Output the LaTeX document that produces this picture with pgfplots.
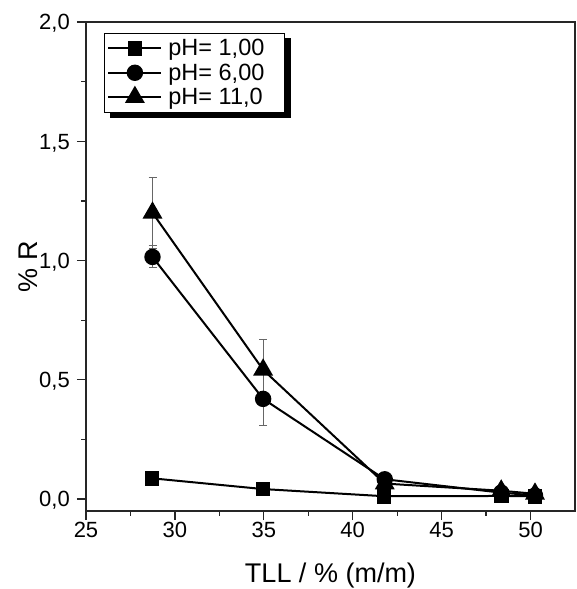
\documentclass[border=0pt]{standalone}
\usepackage{fontspec}
\setmainfont{Liberation Sans}
\usepackage{pgfplots}
\pgfplotsset{compat=1.18}
\usetikzlibrary{backgrounds}

\pgfplotstableread{
x y
28.72 0.087
34.96 0.042
41.76 0.012
48.35 0.013
50.25 0.012
}\phone

\pgfplotstableread{
x y e
28.74 1.015 0.046
34.96 0.420 0.110
41.80 0.083 0
48.35 0.027 0
50.25 0.015 0
}\phsix

\pgfplotstableread{
x y e
28.74 1.200 0.150
34.96 0.542 0.126
41.80 0.065 0
48.35 0.035 0
50.25 0.022 0
}\pheleven

\begin{document}
\begin{tikzpicture}
\begin{axis}[
  name=ax,
  scale only axis, width=489pt, height=489pt,
  xmin=25, xmax=52.5, ymin=-0.05, ymax=2.0,
  axis line style={line width=1.2pt, black!85},
  xtick={25,30,35,40,45,50}, ytick={0,0.5,1,1.5,2},
  minor x tick num=1, minor y tick num=1,
  tick align=outside, xtick pos=bottom, ytick pos=left,
  major tick length=9pt, minor tick length=4.5pt,
  every tick/.style={line width=1.2pt, black!85},
  /pgf/number format/assume math mode=true,
  ticklabel style={font=\fontsize{22}{22}\selectfont},
  xticklabel style={anchor=base, yshift=-17pt},
  yticklabel style={anchor=base east, inner sep=0pt, xshift=-7pt, yshift=-7.9pt,
    /pgf/number format/.cd, fixed, fixed zerofill, precision=1, use comma},
  xlabel={TLL / \% (m/m)},
  xlabel style={at={(axis description cs:0.5,0)}, anchor=base, yshift=-71pt,
    font=\fontsize{27}{30}\selectfont},
  ylabel={\% R},
  ylabel style={at={([xshift=-48.5pt]axis description cs:0,0.5)}, anchor=base,
    font=\fontsize{27}{30}\selectfont},
  legend style={name=leg, at={(axis description cs:0.0368,0.9775)}, anchor=north west,
    draw=black, line width=0.8pt, fill=white,
    font=\fontsize{23.5}{26}\selectfont,
    inner xsep=3pt, inner ysep=4pt,
    nodes={inner sep=2pt}, column sep=4pt, row sep=2.5pt},
  legend cell align=left,
  legend image code/.code={
    \draw[mark repeat=2,mark phase=2,#1] plot coordinates {(0pt,0pt) (26.5pt,0pt) (53pt,0pt)};
  },
]
\addplot[black, line width=2pt, mark=square*, mark size=6.3pt,
  mark options={solid}] table[x=x,y=y] {\phone};
\addlegendentry{pH= 1,00\hspace*{15pt}}
\addplot[black, line width=2pt, mark=*, mark size=7.2pt,
  error bars/.cd, y dir=both, y explicit,
  error bar style={line width=1pt, black!60},
  error mark options={rotate=90, mark size=4pt, line width=1pt, black!60}]
  table[x=x,y=y,y error=e] {\phsix};
\addlegendentry{pH= 6,00\hspace*{15pt}}
\addplot[black, line width=2pt, mark=triangle*, mark size=9.5pt,
  error bars/.cd, y dir=both, y explicit,
  error bar style={line width=1pt, black!60},
  error mark options={rotate=90, mark size=4pt, line width=1pt, black!60}]
  table[x=x,y=y,y error=e] {\pheleven};
\addlegendentry{pH= 11,0\hspace*{15pt}}
\end{axis}
\begin{pgfonlayer}{background}
\fill[black] ([xshift=6pt,yshift=-5pt]leg.south west) rectangle ([xshift=6pt,yshift=-5pt]leg.north east);
\end{pgfonlayer}
\pgfresetboundingbox
\path ([xshift=-86pt,yshift=-78pt]ax.south west) rectangle ([xshift=1pt,yshift=22pt]ax.north east);
\end{tikzpicture}
\end{document}
